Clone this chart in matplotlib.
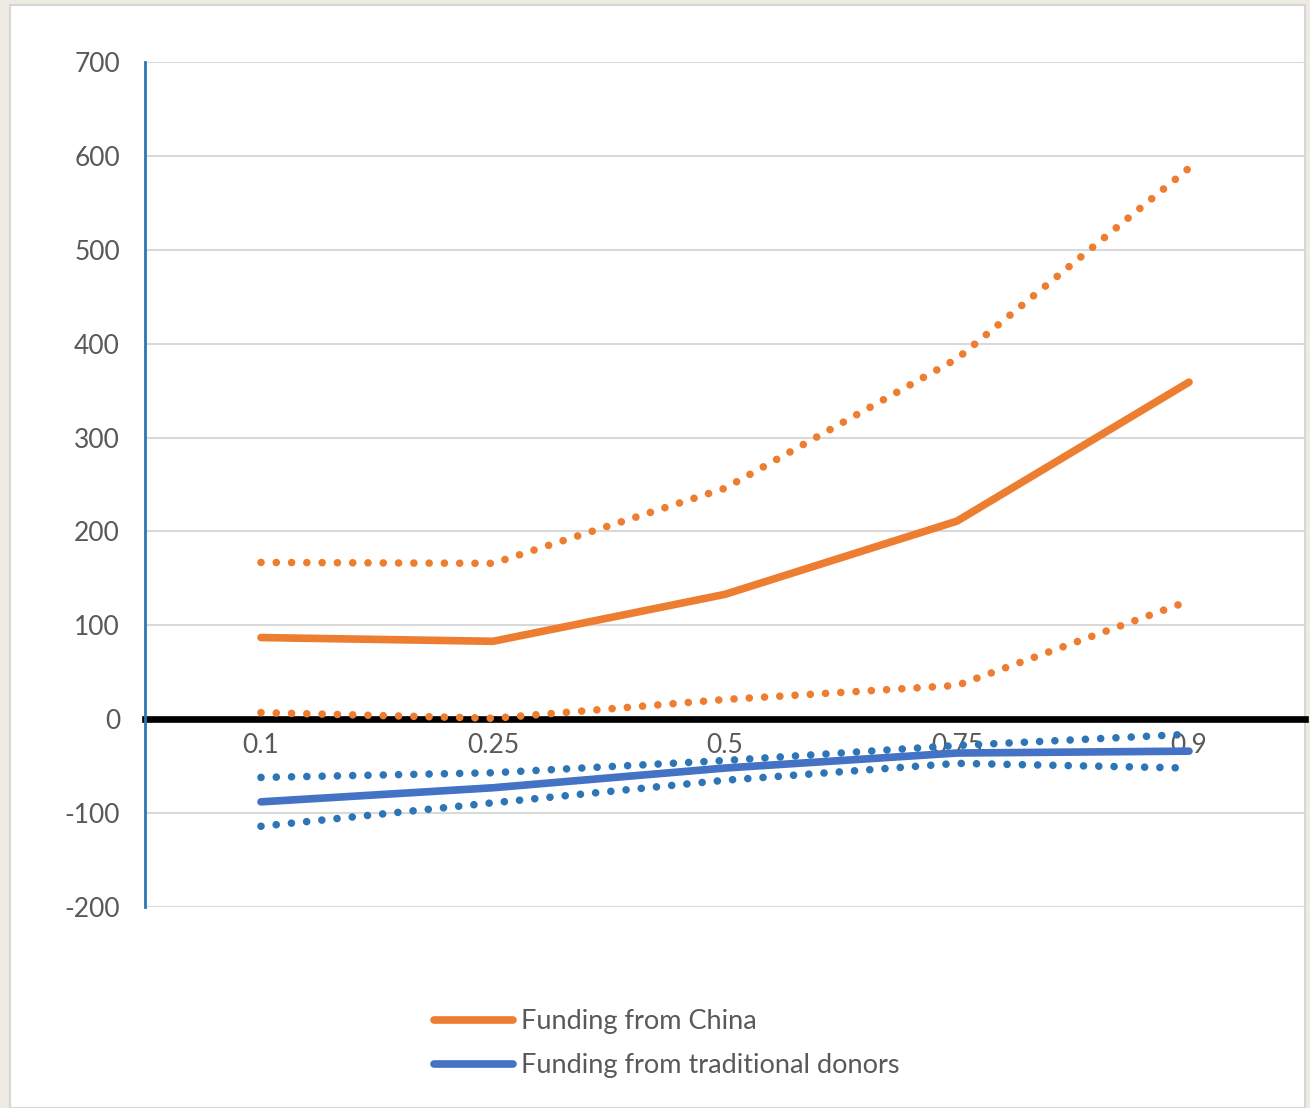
import matplotlib.pyplot as plt
from matplotlib.patches import Rectangle

# quantiles on the x axis
quantiles = ["0.1", "0.25", "0.5", "0.75", "0.9"]

china = [87, 83, 133, 211, 359]
china_upper = [167, 166, 246, 384, 587]
china_lower = [7, 1, 21, 36, 126]

donors = [-88, -73, -52, -36, -34]
donors_upper = [-62, -57, -44, -28, -16]
donors_lower = [-114, -89, -65, -47, -52]

yticks = list(range(-200, 701, 100))

plt.rcParams['font.family'] = ['Lato', 'DejaVu Sans']

W, H = 1310, 1108
fig = plt.figure(figsize=(W / 100, H / 100), dpi=100, facecolor='#EEEBE3')
fig.patches.append(Rectangle((10 / W, 0), 1295 / W, 1103 / H, transform=fig.transFigure,
                             facecolor='white', edgecolor='#D6D6D6', linewidth=1.5, zorder=-10))

ax = fig.add_axes([145 / W, 1 - 907 / H, 1160 / W, 845 / H])
ax.set_facecolor('none')

# spine position first: it resets the ticks
for s in ['top', 'right']:
    ax.spines[s].set_visible(False)
ax.spines['bottom'].set_position(('data', 0))
ax.spines['bottom'].set_linewidth(4.8)
ax.spines['bottom'].set_color('black')
ax.spines['bottom'].set_zorder(2)
ax.spines['left'].set_color('#2E75B6')
ax.spines['left'].set_linewidth(2)

orange = '#ED7D31'
blue = '#4472C4'
blue_dot = '#2E75B6'
x = range(len(quantiles))
dots = (0, (0.001, 2.0))

ax.plot(x, china_upper, color=orange, lw=5.5, ls=dots, dash_capstyle='round', zorder=3)
ax.plot(x, china_lower, color=orange, lw=5.5, ls=dots, dash_capstyle='round', zorder=3)
ax.plot(x, china, color=orange, lw=5.5, solid_capstyle='round', label='Funding from China', zorder=4)

ax.plot(x, donors_upper, color=blue_dot, lw=5.5, ls=dots, dash_capstyle='round', zorder=3)
ax.plot(x, donors_lower, color=blue_dot, lw=5.5, ls=dots, dash_capstyle='round', zorder=3)
ax.plot(x, donors, color=blue, lw=5.5, solid_capstyle='round', label='Funding from traditional donors', zorder=4)

ax.set_xlim(-0.5, len(quantiles) - 0.5)
ax.set_ylim(-200, 700)
ax.set_yticks(yticks)
ax.set_yticklabels([str(v) for v in yticks], fontsize=19, color='#595959')
ax.set_xticks(list(x))
ax.set_xticklabels(quantiles, fontsize=19, color='#595959', zorder=5)
ax.tick_params(axis='both', length=0)
ax.tick_params(axis='y', pad=18)
ax.tick_params(axis='x', pad=10)
ax.grid(axis='y', color='#D9D9D9', lw=1.5, zorder=0)
ax.set_axisbelow(True)

fig.legend(loc='upper left', bbox_to_anchor=(410 / W, 1 - 985 / H), frameon=False,
           fontsize=19.5, handlelength=2.9, handletextpad=0.3, labelspacing=0.7,
           labelcolor='#595959')

fig.savefig('out.png', dpi=100, facecolor=fig.get_facecolor())
